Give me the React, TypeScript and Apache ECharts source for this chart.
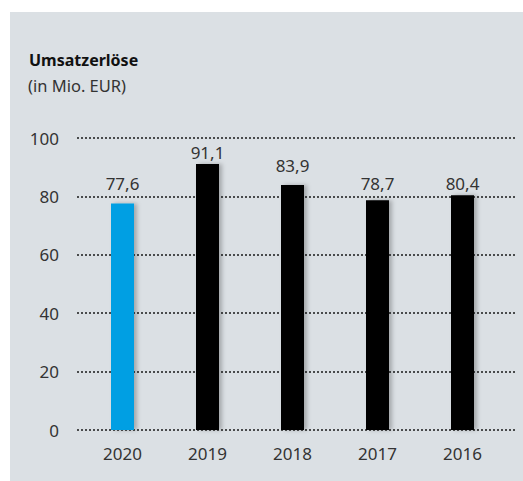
import React, { useEffect, useRef } from "react";
import * as echarts from "echarts";

const years = ["2020", "2019", "2018", "2017", "2016"];
const revenue = [77.6, 91.1, 83.9, 78.7, 80.4];
const yTicks = [0, 20, 40, 60, 80, 100];

const FONT = "'Noto Sans', 'Open Sans', sans-serif";
const TEXT = "#333333";

export default function App() {
  const ref = useRef<HTMLDivElement>(null);
  useEffect(() => {
    if (!ref.current) return;
    const chart = echarts.init(ref.current, undefined, { renderer: "svg" });
    const yMin = yTicks[0];
    const yMax = yTicks[yTicks.length - 1];
    const yInterval = yTicks[1] - yTicks[0];
    // styling: highlight current year, label gaps so labels clear the dotted lines
    const barColors = ["#009FE3", "#000000", "#000000", "#000000", "#000000"];
    const labelGaps = [11, 3, 11, 8, 3];
    chart.setOption({
      animation: false,
      backgroundColor: "#ffffff",
      textStyle: { fontFamily: FONT },
      graphic: [
        {
          type: "rect",
          z: -10,
          shape: { x: 10, y: 12, width: 513, height: 469 },
          style: { fill: "#dbe0e4" },
          silent: true,
        },
      ],
      title: [
        {
          text: "Umsatzerlöse",
          left: 24,
          top: 47,
          textStyle: { fontFamily: FONT, fontSize: 16, fontWeight: "bold", color: "#111" },
        },
        {
          text: "(in Mio. EUR)",
          left: 23,
          top: 72,
          textStyle: { fontFamily: FONT, fontSize: 16.5, fontWeight: "normal", color: TEXT },
        },
      ],
      grid: [
        { left: 77, right: 7, top: 138, bottom: 51 },
        { left: 80, right: 18, top: 138, bottom: 51 },
      ],
      xAxis: [
        { type: "category", gridIndex: 0, data: years, show: false },
        {
          type: "category",
          gridIndex: 1,
          data: years,
          axisLine: { show: false },
          axisTick: { show: false },
          axisLabel: { color: TEXT, fontSize: 17, fontFamily: FONT, margin: 15 },
        },
      ],
      yAxis: [
        {
          type: "value",
          gridIndex: 0,
          min: yMin,
          max: yMax,
          interval: yInterval,
          axisLine: { show: false },
          axisTick: { show: false },
          axisLabel: { color: TEXT, fontSize: 17, fontFamily: FONT, margin: 18 },
          splitLine: {
            show: true,
            lineStyle: { color: "#1a1a1a", type: [2, 2], width: 1.5 },
          },
        },
        {
          type: "value",
          gridIndex: 1,
          min: yMin,
          max: yMax,
          interval: yInterval,
          show: false,
          splitLine: { show: false },
        },
      ],
      series: [
        {
          type: "bar",
          xAxisIndex: 1,
          yAxisIndex: 1,
          barWidth: 23,
          data: revenue.map((v, i) => ({
            value: v,
            itemStyle: {
              color: barColors[i],
              shadowColor: "rgba(0,0,0,0.25)",
              shadowBlur: 4,
              shadowOffsetX: 3,
              shadowOffsetY: 0,
            },
            label: { distance: labelGaps[i] },
          })),
          label: {
            show: true,
            position: "top",
            color: TEXT,
            fontSize: 17,
            fontFamily: FONT,
            formatter: (p: any) => String(p.value).replace(".", ","),
          },
        },
      ],
    });
    return () => chart.dispose();
  }, []);
  return (
    <div
      ref={ref}
      style={{ position: "fixed", left: 0, top: 0, width: 523, height: 481 }}
    />
  );
}
